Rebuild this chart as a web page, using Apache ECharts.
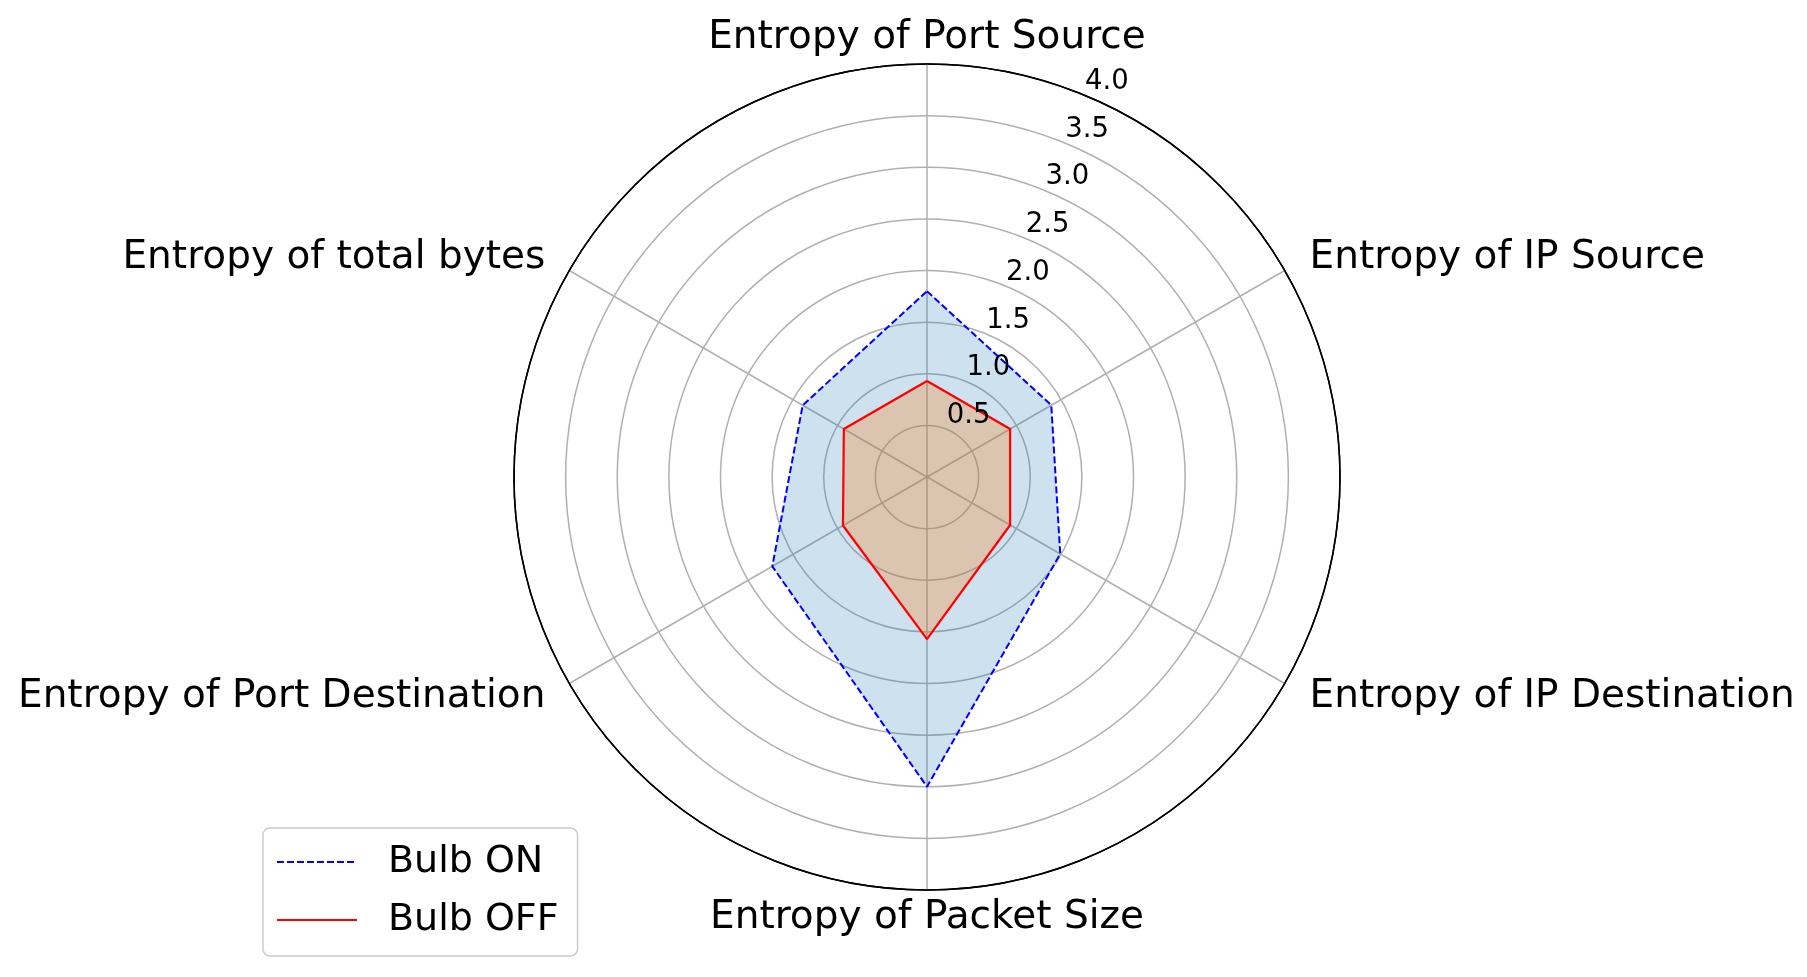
<!DOCTYPE html>
<html>
<head>
<meta charset="utf-8">
<script src="https://cdn.jsdelivr.net/npm/echarts@6/dist/echarts.min.js"></script>
<style>html,body{margin:0;padding:0;background:#fff}#c{width:1807px;height:977px}</style>
</head>
<body>
<div id="c"></div>
<script>
// ---- data (clockwise from top) ----
const categories = [
  'Entropy of Port Source',
  'Entropy of IP Source',
  'Entropy of IP Destination',
  'Entropy of Packet Size',
  'Entropy of Port Destination',
  'Entropy of total bytes'
];
const seriesNames = ['Bulb ON', 'Bulb OFF'];
const bulbOn  = [1.80, 1.39, 1.49, 3.00, 1.73, 1.39];
const bulbOff = [0.93, 0.93, 0.93, 1.57, 0.94, 0.93];
const radiusTickLabels = ['0.5', '1.0', '1.5', '2.0', '2.5', '3.0', '3.5', '4.0'];
const radiusMax = 4.0;
const radiusStep = 0.5;

// ---- layout / style (not data) ----
const FONT = 'DejaVu Sans';
const CENTER = [927, 477];
const RADIUS = 413;
const stepAngle = 360 / categories.length;
const labelStyleKeys = ['t', 'ur', 'lr', 'b', 'll', 'ul'];

function toPolar(arr) {
  const pts = arr.map((v, i) => [v, i * stepAngle]);
  pts.push([arr[0], 360]);
  return pts;
}

const ringColors = [];
for (let i = 0; i < radiusTickLabels.length; i++) ringColors.push('#b0b0b0');
ringColors.push('#000000');

const tokenBase = { fontFamily: FONT, fontSize: 39, color: '#000', verticalAlign: 'middle' };

const chart = echarts.init(document.getElementById('c'), null, { renderer: 'canvas' });
chart.setOption({
  backgroundColor: '#ffffff',
  animation: false,
  polar: [
    { center: CENTER, radius: RADIUS },
    { center: CENTER, radius: RADIUS }
  ],
  angleAxis: [
    {
      polarIndex: 0,
      type: 'value',
      min: 0,
      max: 360,
      interval: stepAngle,
      startAngle: 90,
      clockwise: true,
      axisLine: { show: true, lineStyle: { color: '#000', width: 1.5 } },
      axisTick: { show: false },
      splitLine: { show: true, lineStyle: { color: '#b0b0b0', width: 1.5 } },
      axisLabel: {
        show: true,
        margin: 8,
        fontFamily: FONT,
        fontSize: 39,
        color: '#000',
        formatter: function (value) {
          const i = Math.round(value / stepAngle);
          if (i >= categories.length) return '';
          return '{' + labelStyleKeys[i] + '|' + categories[i] + '}';
        },
        rich: {
          t:  Object.assign({}, tokenBase, { lineHeight: 36.6 }),
          b:  Object.assign({}, tokenBase, { lineHeight: 39.6 }),
          ur: Object.assign({}, tokenBase, { lineHeight: 18, padding: [0, 0, 0, 18] }),
          lr: Object.assign({}, tokenBase, { lineHeight: 19.5, padding: [0, 0, 0, 18] }),
          ul: Object.assign({}, tokenBase, { lineHeight: 18, padding: [0, 17, 0, 0] }),
          ll: Object.assign({}, tokenBase, { lineHeight: 19.5, padding: [0, 17, 0, 0] })
        }
      }
    },
    {
      polarIndex: 1,
      type: 'value',
      min: 0,
      max: 360,
      startAngle: 67.5,
      show: false
    }
  ],
  radiusAxis: [
    {
      polarIndex: 0,
      type: 'value',
      min: 0,
      max: radiusMax,
      interval: radiusStep,
      axisLine: { show: false },
      axisTick: { show: false },
      axisLabel: { show: false },
      splitLine: { show: true, lineStyle: { color: ringColors, width: 1.5 } }
    },
    {
      polarIndex: 1,
      type: 'value',
      min: 0,
      max: radiusMax,
      interval: radiusStep,
      z: 10,
      axisLine: { show: false },
      axisTick: { show: false },
      splitLine: { show: false },
      axisLabel: {
        show: true,
        margin: 0,
        showMinLabel: true,
        showMaxLabel: true,
        align: 'left',
        verticalAlign: 'bottom',
        lineHeight: 27,
        fontFamily: FONT,
        fontSize: 27.5,
        color: '#000',
        formatter: function (value) {
          const i = Math.round(value / radiusStep) - 1;
          return (i >= 0 && i < radiusTickLabels.length) ? radiusTickLabels[i] : '';
        }
      }
    }
  ],
  legend: {
    orient: 'vertical',
    left: 263,
    top: 828,
    itemWidth: 80,
    itemHeight: 20,
    itemGap: 20,
    padding: [15, 19, 17, 13],
    borderColor: '#cccccc',
    borderWidth: 1.5,
    borderRadius: 7,
    backgroundColor: 'rgba(255,255,255,0.8)',
    itemStyle: { color: 'rgba(0,0,0,0)', borderColor: 'rgba(0,0,0,0)', borderWidth: 0, opacity: 0 },
    lineStyle: { width: 2 },
    textStyle: { fontFamily: FONT, fontSize: 38, color: '#000', padding: [0, 0, 0, 26] },
    data: seriesNames
  },
  series: [
    {
      name: seriesNames[0],
      type: 'line',
      coordinateSystem: 'polar',
      polarIndex: 0,
      symbol: 'none',
      data: toPolar(bulbOn),
      lineStyle: { color: '#0000ff', width: 2, type: [7, 3] },
      itemStyle: { color: '#0000ff' },
      areaStyle: { color: 'rgba(31,119,180,0.22)', opacity: 1 }
    },
    {
      name: seriesNames[1],
      type: 'line',
      coordinateSystem: 'polar',
      polarIndex: 0,
      symbol: 'none',
      data: toPolar(bulbOff),
      lineStyle: { color: '#ff0000', width: 2.2, type: 'solid' },
      itemStyle: { color: '#ff0000' },
      areaStyle: { color: 'rgba(255,127,14,0.28)', opacity: 1 }
    }
  ]
});
</script>
</body>
</html>
